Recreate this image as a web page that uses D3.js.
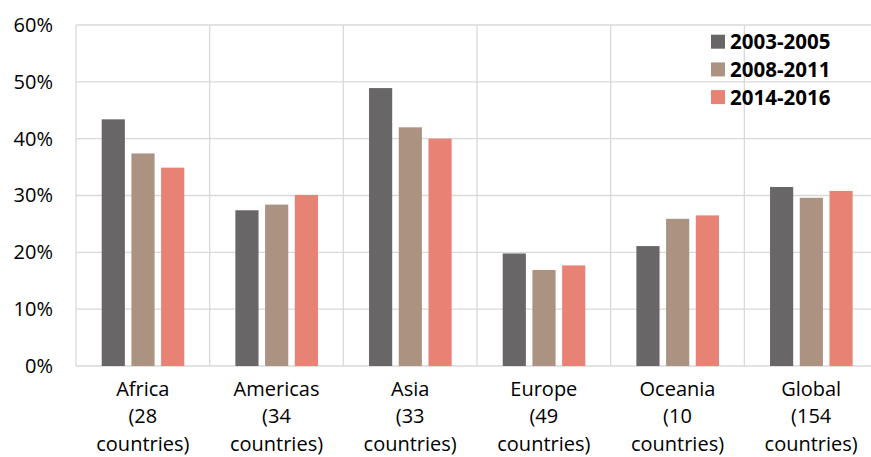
<!DOCTYPE html>
<html><head><meta charset="utf-8">
<script src="https://cdn.jsdelivr.net/npm/d3@7"></script>
<style>body{margin:0;background:#fff}svg{display:block}</style>
</head><body>
<svg id="c" width="871" height="457"></svg>
<script>
const categories = ["Africa|(28|countries)","Americas|(34|countries)","Asia|(33|countries)","Europe|(49|countries)","Oceania|(10|countries)","Global|(154|countries)"];
const seriesNames = ["2003-2005","2008-2011","2014-2016"];
const s2003 = [0.434,0.274,0.489,0.198,0.211,0.315];
const s2008 = [0.374,0.284,0.420,0.169,0.259,0.296];
const s2014 = [0.349,0.301,0.400,0.177,0.265,0.308];
const colors = ["#686666","#ac9381","#e88274"];
const yTicks = [0,0.1,0.2,0.3,0.4,0.5,0.6];

(function(){
const svg = d3.select("#c");
const pL = 76, pR = 878, pT = 25, pB = 366;
const x = d3.scaleBand().domain(categories).range([pL,pR]).padding(0);
const xs = d3.scaleBand().domain(seriesNames).range([25.7,108.3]).paddingInner(0.22).paddingOuter(0);
const y = d3.scaleLinear().domain([0,0.6]).range([pB,pT]);
const font = "'Open Sans', sans-serif";

svg.append("g").selectAll("line").data(yTicks).join("line")
  .attr("x1",pL).attr("x2",pR).attr("y1",d=>y(d)).attr("y2",d=>y(d))
  .attr("stroke","#d9d9d9").attr("stroke-width",1.3);
svg.append("g").selectAll("line").data(categories.concat(["end"])).join("line")
  .attr("x1",(d,i)=>pL+i*x.step()).attr("x2",(d,i)=>pL+i*x.step())
  .attr("y1",pT).attr("y2",pB).attr("stroke","#d9d9d9").attr("stroke-width",1.3);

const series = [s2003,s2008,s2014];
series.forEach((vals,si)=>{
  svg.append("g").selectAll("rect").data(vals).join("rect")
    .attr("x",(d,i)=>x(categories[i])+xs(seriesNames[si]))
    .attr("width",xs.bandwidth())
    .attr("y",d=>y(d)).attr("height",d=>y(0)-y(d))
    .attr("fill",colors[si]);
});

const yAxis = d3.axisLeft(y).tickValues(yTicks).tickFormat(d3.format(".0%")).tickSize(0).tickPadding(23);
const ga = svg.append("g").attr("transform",`translate(${pL},0)`).call(yAxis);
ga.select(".domain").remove();
ga.selectAll("text").attr("font-family",font).attr("font-size",20).attr("fill","#000");

const xl = svg.append("g").selectAll("text").data(categories).join("text")
  .attr("text-anchor","middle").attr("font-family",font).attr("font-size",20).attr("fill","#000");
xl.each(function(d){
  const t = d3.select(this);
  d.split("|").forEach((ln,j)=>{
    t.append("tspan").attr("x",x(d)+x.bandwidth()/2).attr("y",395.5+j*27.5).text(ln);
  });
});

const lg = svg.append("g").selectAll("g").data(seriesNames).join("g")
  .attr("transform",(d,i)=>`translate(711,${41.7+i*27.7})`);
lg.append("rect").attr("x",0).attr("y",-7).attr("width",14).attr("height",14).attr("fill",(d,i)=>colors[i]);
lg.append("text").attr("x",19).attr("y",7.5).attr("font-family",font).attr("font-weight","bold").attr("font-size",20.5).attr("fill","#000").text(d=>d);
})();
</script>
</body></html>
